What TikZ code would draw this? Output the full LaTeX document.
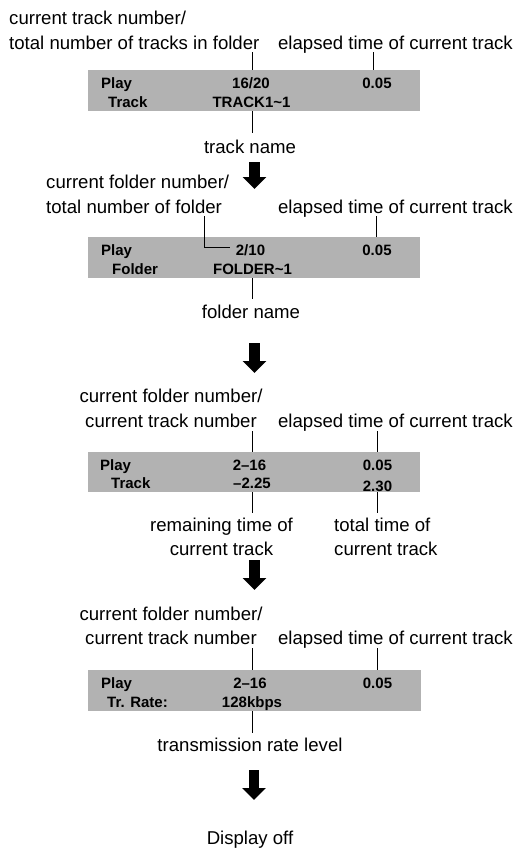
\documentclass[tikz,border=0pt]{standalone}
\usepackage{fontspec}
\setmainfont{Liberation Sans}
\usetikzlibrary{arrows.meta}
\definecolor{lcdgray}{RGB}{178,178,178}
\begin{document}
\begin{tikzpicture}[x=1pt,y=-1pt,
  lab/.style={font=\fontsize{18.6}{24.5}\selectfont, inner sep=0pt},
  disp/.style={font=\fontsize{15}{18}\selectfont\bfseries, inner sep=0pt},
  lcd/.style={fill=lcdgray, draw=none, inner sep=0pt},
  leader/.style={line width=1pt},
  bigarrow/.style={line width=10.5pt, -{Triangle[width=23pt,length=12pt]}}]
\useasboundingbox (0,0) rectangle (518,849);

% ---------- panel 1 ----------
\node[lab, anchor=base west] (p1la) at (9,24.5) {current track number/};
\node[lab, anchor=base west] (p1lb) at (9,49.5) {total number of tracks in folder};
\node[lab, anchor=base east] (p1e) at (513,49.5) {elapsed time of current track};
\node[lcd, minimum width=332pt, minimum height=41pt] (box1) at (253.5,90.5) {};
\node[disp, anchor=base west] (p1play) at (101,88) {Play};
\node[disp, anchor=base] (p1num) at (251,88) {16/20};
\node[disp, anchor=base] (p1time) at (377,88) {0.05};
\node[disp, anchor=base west] (p1trk) at (108,107.5) {Track};
\node[disp, anchor=base] (p1name) at (251.5,107.5) {TRACK1\textasciitilde 1};
\coordinate (p1c1) at (252,52);
\coordinate (p1c2) at (373,52);
\coordinate (p1c3) at (252,133);
\draw[leader] (p1c1) -- (p1c1 |- box1.north);
\draw[leader] (p1c2) -- (p1c2 |- box1.north);
\draw[leader] (p1c3 |- box1.south) -- (p1c3);
\node[lab, anchor=base] (p1tn) at (250,153.5) {track name};
\coordinate (ar1a) at (254.5,162);
\coordinate (ar1b) at (254.5,189);
\draw[bigarrow] (ar1a) -- (ar1b);

% ---------- panel 2 ----------
\node[lab, anchor=base west] (p2la) at (46,188.5) {current folder number/};
\node[lab, anchor=base west] (p2lb) at (46,213) {total number of folder};
\node[lab, anchor=base east] (p2e) at (513,213) {elapsed time of current track};
\node[lcd, minimum width=332pt, minimum height=41pt] (box2) at (253.5,257.5) {};
\node[disp, anchor=base west] (p2play) at (101,255) {Play};
\node[disp, anchor=base] (p2num) at (250.5,255) {2/10};
\node[disp, anchor=base] (p2time) at (377,255) {0.05};
\node[disp, anchor=base west] (p2fld) at (112,274.5) {Folder};
\node[disp, anchor=base] (p2name) at (252.5,274.5) {FOLDER\textasciitilde 1};
\coordinate (p2c1) at (204,216);
\coordinate (p2c1e) at (230,247.5);
\coordinate (p2c2) at (376,216);
\coordinate (p2c3) at (252,299);
\draw[leader] (p2c1) |- (p2c1e);
\draw[leader] (p2c2) -- (p2c2 |- box2.north);
\draw[leader] (p2c3 |- box2.south) -- (p2c3);
\node[lab, anchor=base] (p2fn) at (251,318.5) {folder name};
\coordinate (ar2a) at (254.5,343);
\coordinate (ar2b) at (254.5,373);
\draw[bigarrow] (ar2a) -- (ar2b);

% ---------- panel 3 ----------
\node[lab, anchor=base] (p3la) at (171,402.5) {current folder number/};
\node[lab, anchor=base] (p3lb) at (171,427) {current track number};
\node[lab, anchor=base east] (p3e) at (513,427) {elapsed time of current track};
\node[lcd, minimum width=332pt, minimum height=40pt] (box3) at (253.5,472) {};
\node[disp, anchor=base west] (p3play) at (100,470) {Play};
\node[disp, anchor=base] (p3num) at (249.5,470) {2–16};
\node[disp, anchor=base] (p3time) at (377.5,470) {0.05};
\node[disp, anchor=base west] (p3trk) at (111,488.5) {Track};
\node[disp, anchor=base] (p3rem) at (252,488.5) {–2.25};
\node[disp, anchor=base] (p3tot) at (377.5,491.5) {2.30};
\coordinate (p3c1) at (252,431);
\coordinate (p3c2) at (377,431);
\coordinate (p3c3) at (252,513);
\coordinate (p3c4) at (377,513);
\draw[leader] (p3c1) -- (p3c1 |- box3.north);
\draw[leader] (p3c2) -- (p3c2 |- box3.north);
\draw[leader] (p3c3 |- box3.south) -- (p3c3);
\draw[leader] (p3c4 |- box3.south) -- (p3c4);
\node[lab, anchor=base] (p3ra) at (221.5,531) {remaining time of};
\node[lab, anchor=base] (p3rb) at (221.5,555) {current track};
\node[lab, anchor=base west] (p3ta) at (334,531) {total time of};
\node[lab, anchor=base west] (p3tb) at (334,555) {current track};
\coordinate (ar3a) at (254.5,560);
\coordinate (ar3b) at (254.5,590);
\draw[bigarrow] (ar3a) -- (ar3b);

% ---------- panel 4 ----------
\node[lab, anchor=base] (p4la) at (171,620) {current folder number/};
\node[lab, anchor=base] (p4lb) at (171,644.5) {current track number};
\node[lab, anchor=base east] (p4e) at (513,644.5) {elapsed time of current track};
\node[lcd, minimum width=333pt, minimum height=41pt] (box4) at (254.5,690.5) {};
\node[disp, anchor=base west] (p4play) at (101,688) {Play};
\node[disp, anchor=base] (p4num) at (250,688) {2–16};
\node[disp, anchor=base] (p4time) at (377.5,688) {0.05};
\node[disp, anchor=base west] (p4rt) at (107,707.5) {Tr. Rate:};
\node[disp, anchor=base] (p4rate) at (252,707.5) {128kbps};
\coordinate (p4c1) at (252,648);
\coordinate (p4c2) at (377,648);
\coordinate (p4c3) at (252,733);
\draw[leader] (p4c1) -- (p4c1 |- box4.north);
\draw[leader] (p4c2) -- (p4c2 |- box4.north);
\draw[leader] (p4c3 |- box4.south) -- (p4c3);
\node[lab, anchor=base] (p4tr) at (250,751) {transmission rate level};
\coordinate (ar4a) at (254,770);
\coordinate (ar4b) at (254,800);
\draw[bigarrow] (ar4a) -- (ar4b);
\node[lab, anchor=base] (off) at (250,844) {Display off};
\end{tikzpicture}
\end{document}
